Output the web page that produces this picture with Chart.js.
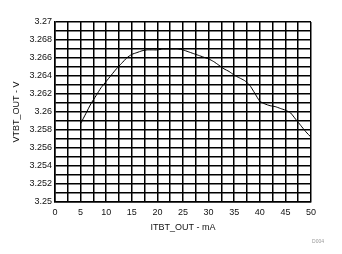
<!DOCTYPE html>
<html>
<head>
<meta charset="utf-8">
<script src="https://cdn.jsdelivr.net/npm/chart.js@4/dist/chart.umd.min.js"></script>
<style>
html,body{margin:0;padding:0;background:#fff;}
#wrap{width:342px;height:254px;position:relative;}
</style>
</head>
<body>
<div id="wrap"><canvas id="c" width="342" height="254"></canvas></div>
<script>
const currentMA = [5,6,7,8,9,10,11,12,13,14,15,16,17,18,19,20,21,22,23,24,25,26,27,28,29,30,31,32,33,34,35,36,37,38,39,40,41,42,43,44,45,46,47,48,49,50];
const voltageV = [3.2587,3.2598,3.2609,3.2618,3.2627,3.2634,3.2641,3.2648,3.2654,3.2660,3.2664,3.2666,3.2668,3.2669,3.2669,3.2669,3.2670,3.2670,3.2670,3.2670,3.2669,3.2667,3.2665,3.2663,3.2661,3.2659,3.2656,3.2652,3.2648,3.2645,3.2641,3.2638,3.2635,3.2630,3.2621,3.2612,3.2609,3.2607,3.2606,3.2604,3.2602,3.2599,3.2592,3.2585,3.2578,3.2572];
const xTickLabels = ['0','5','10','15','20','25','30','35','40','45','50'];
const yTickLabels = ['3.25','3.252','3.254','3.256','3.258','3.26','3.262','3.264','3.266','3.268','3.27'];
const xTitle = 'ITBT_OUT - mA';
const yTitle = 'VTBT_OUT - V';
const noteText = 'D004';

const FONT = 'Liberation Sans, Arial, sans-serif';

const notePlugin = {
  id: 'note',
  afterDraw(chart) {
    const ctx = chart.ctx;
    ctx.save();
    ctx.font = '5px ' + FONT;
    ctx.fillStyle = '#999';
    ctx.textAlign = 'center';
    ctx.textBaseline = 'middle';
    ctx.fillText(noteText, 318, 242);
    ctx.restore();
  }
};

new Chart(document.getElementById('c'), {
  type: 'line',
  data: {
    datasets: [{
      data: currentMA.map((x, i) => ({x: x, y: voltageV[i]})),
      borderColor: '#000',
      borderWidth: 1,
      pointRadius: 0,
      tension: 0.2,
      fill: false
    }]
  },
  options: {
    responsive: false,
    animation: false,
    devicePixelRatio: 1,
    layout: {padding: {left: 0, top: 22, right: 31, bottom: 0}},
    plugins: {legend: {display: false}, tooltip: {enabled: false}},
    scales: {
      x: {
        type: 'linear', min: 0, max: 50,
        afterFit(s) { s.height = 52; },
        afterBuildTicks(s) {
          const t = [];
          for (let i = 0; i <= 20; i++) t.push({value: i * 2.5});
          s.ticks = t;
        },
        ticks: {
          autoSkip: false, maxRotation: 0, padding: 5, color: '#111',
          font: {family: FONT, size: 9},
          callback(v, i) { return i % 2 === 0 ? xTickLabels[i / 2] : ''; }
        },
        grid: {color: '#000', lineWidth: 1.5, drawTicks: false},
        border: {color: '#000', width: 1.5},
        title: {display: true, text: xTitle, color: '#111', font: {family: FONT, size: 9}, padding: {top: 0, bottom: 21}}
      },
      y: {
        type: 'linear', min: 3.25, max: 3.27,
        afterFit(s) { s.width = 55; },
        afterBuildTicks(s) {
          const t = [];
          for (let i = 0; i <= 20; i++) t.push({value: 3.25 + i * 0.001});
          s.ticks = t;
        },
        ticks: {
          autoSkip: false, padding: 3, color: '#111',
          font: {family: FONT, size: 9},
          callback(v, i) { return i % 2 === 0 ? yTickLabels[i / 2] : ''; }
        },
        grid: {color: '#000', lineWidth: 1.5, drawTicks: false},
        border: {color: '#000', width: 1.5},
        title: {display: true, text: yTitle, color: '#111', font: {family: FONT, size: 9}, padding: {top: 11, bottom: 0}}
      }
    }
  },
  plugins: [notePlugin]
});
</script>
</body>
</html>
